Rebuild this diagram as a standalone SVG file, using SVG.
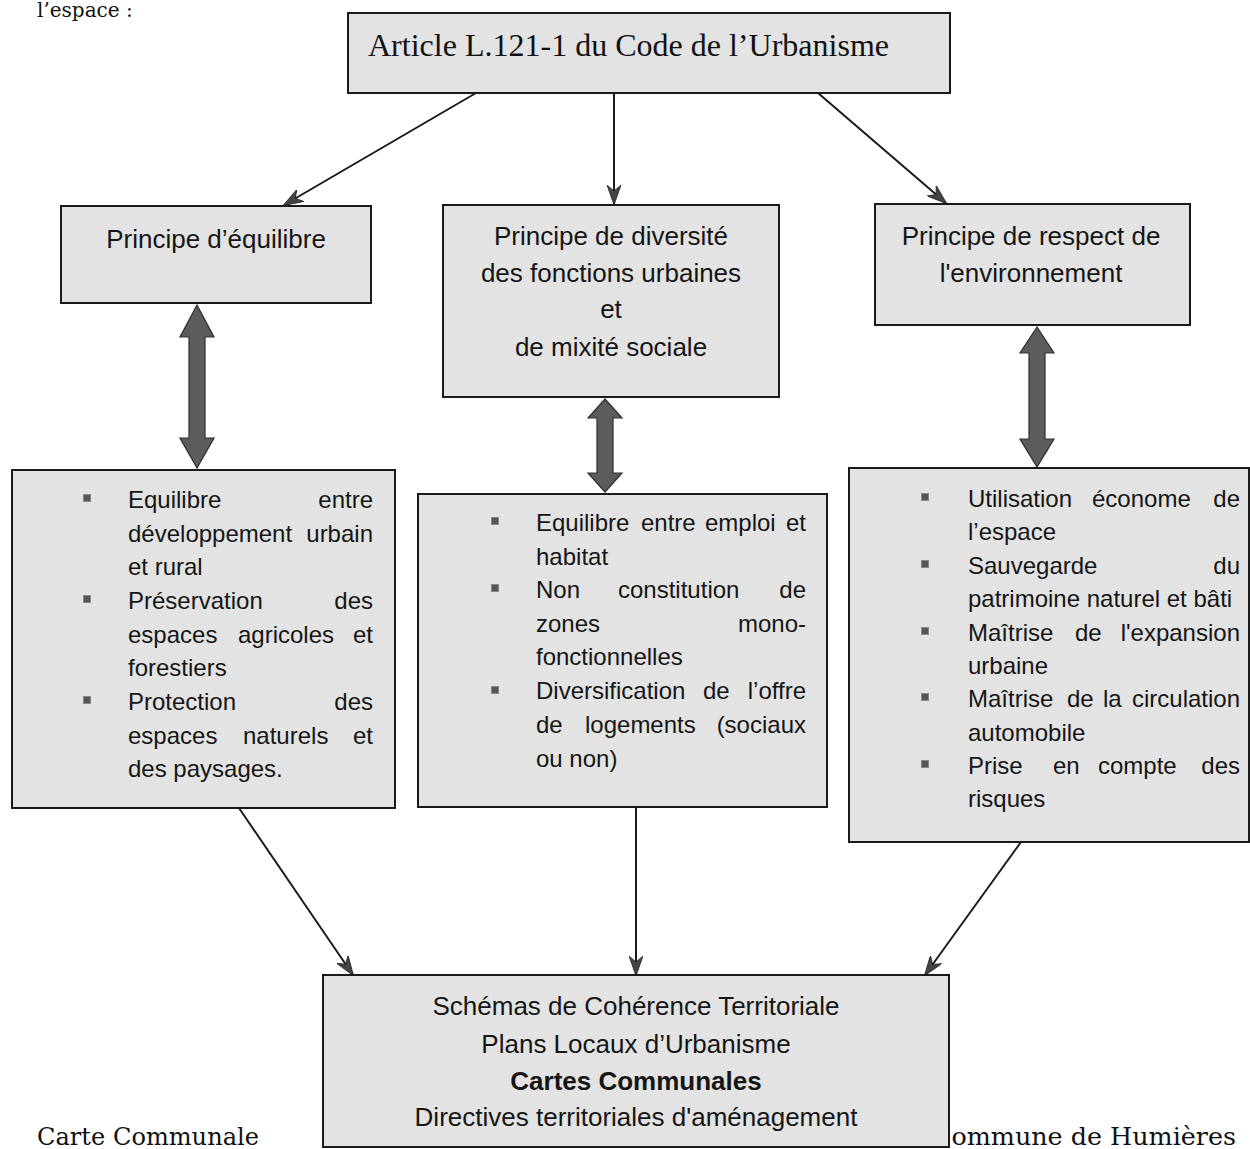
<svg xmlns="http://www.w3.org/2000/svg" width="1250" height="1149" viewBox="0 0 1250 1149">
<style>
.box{fill:#e3e3e3;stroke:#1a1a1a;stroke-width:2}
.serif{font-family:"Liberation Serif","Times New Roman",serif;fill:#111}
.cm{font-family:"DejaVu Serif","Liberation Serif",serif;fill:#111}
.sans{font-family:"Liberation Sans",Arial,sans-serif;fill:#151515}
.p{font-size:26px}
.b{font-size:24px}
.c{text-anchor:middle}
.e{text-anchor:end}
.bul{fill:#555;stroke:#888;stroke-width:1}
.conn{stroke:#1a1a1a;stroke-width:2;fill:none;marker-end:url(#ah)}
.dbl{fill:#5c5c5c;stroke:#2e2e2e;stroke-width:1.2}
</style>
<defs>
<marker id="ah" viewBox="0 0 20 14" refX="19" refY="7" markerWidth="20" markerHeight="14" markerUnits="userSpaceOnUse" orient="auto">
<path d="M0,0 L20,7 L0,14 L6,7 Z" fill="#444" stroke="#222" stroke-width="0.8"/>
</marker>
</defs>
<rect width="1250" height="1149" fill="#ffffff"/>

<text class="cm" x="37" y="17" font-size="20">l’espace :</text>
<text class="cm" x="37" y="1145" font-size="25" textLength="222" lengthAdjust="spacingAndGlyphs">Carte Communale</text>
<text class="cm" x="932" y="1145" font-size="25" textLength="304" lengthAdjust="spacingAndGlyphs">Commune de Humières</text>

<g id="connectors">
<line class="conn" x1="476" y1="93" x2="284" y2="205"/>
<line class="conn" x1="614" y1="93" x2="614" y2="204"/>
<line class="conn" x1="818" y1="93" x2="946" y2="203"/>
<line class="conn" x1="239" y1="808" x2="353" y2="975"/>
<line class="conn" x1="636" y1="807" x2="636" y2="975"/>
<line class="conn" x1="1021" y1="842" x2="925" y2="975"/>
<path class="dbl" d="M197,305 L214,337 L205,337 L205,438 L214,438 L197,468 L180,438 L189,438 L189,337 L180,337 Z"/>
<path class="dbl" d="M605,399 L622,418 L613,418 L613,473 L622,473 L605,492 L588,473 L597,473 L597,418 L588,418 Z"/>
<path class="dbl" d="M1037,327 L1054,353 L1045,353 L1045,439 L1054,439 L1037,467 L1020,439 L1029,439 L1029,353 L1020,353 Z"/>
</g>

<g id="article">
<rect class="box" x="348" y="13" width="602" height="80"/>
<text class="serif" x="368" y="56" font-size="32" textLength="521" lengthAdjust="spacingAndGlyphs">Article L.121-1 du Code de l’Urbanisme</text>
</g>

<g id="principe-equilibre">
<rect class="box" x="61" y="206" width="310" height="97"/>
<text class="sans p c" x="216" y="248">Principe d’équilibre</text>
</g>

<g id="principe-diversite">
<rect class="box" x="443" y="205" width="336" height="192"/>
<text class="sans p c" x="611" y="245">Principe de diversité</text>
<text class="sans p c" x="611" y="282">des fonctions urbaines</text>
<text class="sans p c" x="611" y="318">et</text>
<text class="sans p c" x="611" y="356">de mixité sociale</text>
</g>

<g id="principe-environnement">
<rect class="box" x="875" y="204" width="315" height="121"/>
<text class="sans p c" x="1031" y="245">Principe de respect de</text>
<text class="sans p c" x="1031" y="282">l'environnement</text>
</g>

<g id="liste-equilibre">
<rect class="box" x="12" y="470" width="383" height="338"/>
<rect class="bul" x="83.5" y="494.5" width="7" height="7"/>
<rect class="bul" x="83.5" y="595.5" width="7" height="7"/>
<rect class="bul" x="83.5" y="696.5" width="7" height="7"/>
<text class="sans b" x="128" y="508">Equilibre</text><text class="sans b e" x="373" y="508">entre</text>
<text class="sans b" x="128" y="542">développement</text><text class="sans b e" x="373" y="542">urbain</text>
<text class="sans b" x="128" y="575">et rural</text>
<text class="sans b" x="128" y="609">Préservation</text><text class="sans b e" x="373" y="609">des</text>
<text class="sans b" x="128" y="643">espaces</text><text class="sans b" x="238" y="643">agricoles</text><text class="sans b e" x="373" y="643">et</text>
<text class="sans b" x="128" y="676">forestiers</text>
<text class="sans b" x="128" y="710">Protection</text><text class="sans b e" x="373" y="710">des</text>
<text class="sans b" x="128" y="744">espaces</text><text class="sans b" x="243" y="744">naturels</text><text class="sans b e" x="373" y="744">et</text>
<text class="sans b" x="128" y="777">des paysages.</text>
</g>

<g id="liste-diversite">
<rect class="box" x="418" y="494" width="409" height="313"/>
<rect class="bul" x="491.5" y="517.5" width="7" height="7"/>
<rect class="bul" x="491.5" y="584.5" width="7" height="7"/>
<rect class="bul" x="491.5" y="686.5" width="7" height="7"/>
<text class="sans b" x="536" y="531">Equilibre</text><text class="sans b" x="641" y="531">entre</text><text class="sans b" x="705" y="531">emploi</text><text class="sans b e" x="806" y="531">et</text>
<text class="sans b" x="536" y="565">habitat</text>
<text class="sans b" x="536" y="598">Non</text><text class="sans b" x="618" y="598">constitution</text><text class="sans b e" x="806" y="598">de</text>
<text class="sans b" x="536" y="632">zones</text><text class="sans b e" x="806" y="632">mono-</text>
<text class="sans b" x="536" y="665">fonctionnelles</text>
<text class="sans b" x="536" y="699">Diversification</text><text class="sans b" x="703" y="699">de</text><text class="sans b e" x="806" y="699">l’offre</text>
<text class="sans b" x="536" y="733">de</text><text class="sans b" x="585" y="733">logements</text><text class="sans b e" x="806" y="733">(sociaux</text>
<text class="sans b" x="536" y="767">ou non)</text>
</g>

<g id="liste-environnement">
<rect class="box" x="849" y="468" width="400" height="374"/>
<rect class="bul" x="921.5" y="493.5" width="7" height="7"/>
<rect class="bul" x="921.5" y="560.5" width="7" height="7"/>
<rect class="bul" x="921.5" y="627.5" width="7" height="7"/>
<rect class="bul" x="921.5" y="693.5" width="7" height="7"/>
<rect class="bul" x="921.5" y="760.5" width="7" height="7"/>
<text class="sans b" x="968" y="507">Utilisation</text><text class="sans b" x="1092" y="507">économe</text><text class="sans b e" x="1240" y="507">de</text>
<text class="sans b" x="968" y="540">l’espace</text>
<text class="sans b" x="968" y="574">Sauvegarde</text><text class="sans b e" x="1240" y="574">du</text>
<text class="sans b" x="968" y="607">patrimoine naturel et bâti</text>
<text class="sans b" x="968" y="641">Maîtrise</text><text class="sans b" x="1075" y="641">de</text><text class="sans b e" x="1240" y="641">l'expansion</text>
<text class="sans b" x="968" y="674">urbaine</text>
<text class="sans b" x="968" y="707">Maîtrise</text><text class="sans b" x="1067" y="707">de</text><text class="sans b" x="1103" y="707">la</text><text class="sans b e" x="1240" y="707">circulation</text>
<text class="sans b" x="968" y="741">automobile</text>
<text class="sans b" x="968" y="774">Prise</text><text class="sans b" x="1053" y="774">en</text><text class="sans b" x="1098" y="774">compte</text><text class="sans b e" x="1240" y="774">des</text>
<text class="sans b" x="968" y="807">risques</text>
</g>

<g id="documents">
<rect class="box" x="323" y="975" width="626" height="172"/>
<text class="sans p c" x="636" y="1015">Schémas de Cohérence Territoriale</text>
<text class="sans p c" x="636" y="1053">Plans Locaux d’Urbanisme</text>
<text class="sans p c" x="636" y="1090" font-weight="bold">Cartes Communales</text>
<text class="sans p c" x="636" y="1126">Directives territoriales d'aménagement</text>
</g>
</svg>
